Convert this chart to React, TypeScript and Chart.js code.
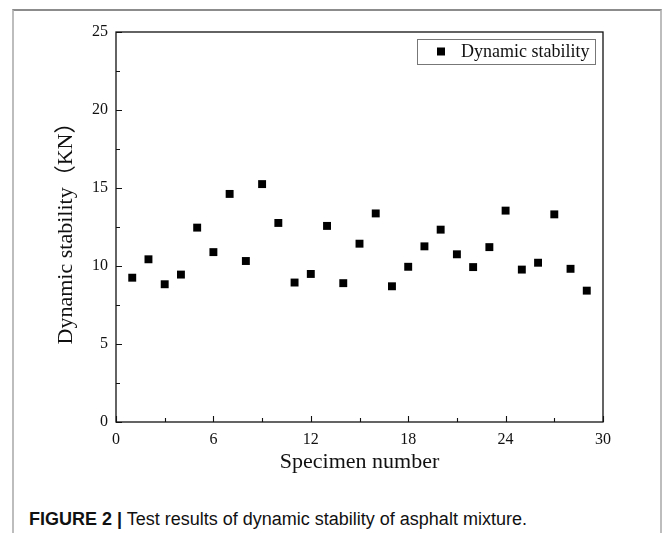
import React, { useEffect, useRef } from "react";
import { Chart, registerables } from "chart.js";

Chart.register(...registerables);

const specimenNumbers = [1, 2, 3, 4, 5, 6, 7, 8, 9, 10, 11, 12, 13, 14, 15, 16, 17, 18, 19, 20, 21, 22, 23, 24, 25, 26, 27, 28, 29];
const dynamicStability = [9.25, 10.43, 8.83, 9.45, 12.46, 10.89, 14.62, 10.32, 15.25, 12.76, 8.94, 9.49, 12.57, 8.9, 11.43, 13.37, 8.7, 9.95, 11.26, 12.33, 10.75, 9.93, 11.21, 13.55, 9.77, 10.21, 13.31, 9.82, 8.42];
const xMajorTicks = [0, 6, 12, 18, 24, 30];
const xMinorTicks = [3, 9, 15, 21, 27];
const yMajorTicks = [0, 5, 10, 15, 20, 25];
const yMinorTicks = [2.5, 7.5, 12.5, 17.5, 22.5];
const seriesLabel = "Dynamic stability";
const xTitle = "Specimen number";
const yTitle = "Dynamic stability（KN）";
const captionBold = "FIGURE 2 |";
const captionText = " Test results of dynamic stability of asphalt mixture.";

const SERIF = "'Liberation Serif', 'Times New Roman', 'Noto Sans CJK SC', serif";

const framePlugin = {
  id: "framePlugin",
  afterDraw(chart: any) {
    const { ctx, chartArea } = chart;
    const xs = chart.scales.x;
    const ys = chart.scales.y;
    ctx.save();
    ctx.strokeStyle = "#111";
    ctx.lineWidth = 1.3;
    ctx.strokeRect(chartArea.left, chartArea.top, chartArea.right - chartArea.left, chartArea.bottom - chartArea.top);
    ctx.lineWidth = 1.1;
    ctx.beginPath();
    const tickX = (v: number, len: number) => {
      const px = Math.round(xs.getPixelForValue(v)) + 0.5;
      ctx.moveTo(px, chartArea.bottom);
      ctx.lineTo(px, chartArea.bottom - len);
    };
    const tickY = (v: number, len: number) => {
      const py = Math.round(ys.getPixelForValue(v)) + 0.5;
      ctx.moveTo(chartArea.left, py);
      ctx.lineTo(chartArea.left + len, py);
    };
    xMajorTicks.forEach((v) => tickX(v, 6));
    xMinorTicks.forEach((v) => tickX(v, 4));
    yMajorTicks.forEach((v) => tickY(v, 6));
    yMinorTicks.forEach((v) => tickY(v, 4));
    ctx.stroke();

    // axis titles
    ctx.fillStyle = "#111";
    ctx.font = `22px ${SERIF}`;
    ctx.textAlign = "center";
    ctx.textBaseline = "middle";
    ctx.fillText(xTitle, (chartArea.left + chartArea.right) / 2, chartArea.bottom + 40);
    ctx.save();
    ctx.translate(66, (chartArea.top + chartArea.bottom) / 2 + 1);
    ctx.rotate(-Math.PI / 2);
    ctx.font = `22px ${SERIF}`;
    ctx.fillText(yTitle, 0, 0);
    ctx.restore();

    // legend box
    const bx1 = chartArea.right - 8;
    const by0 = chartArea.top + 7;
    const bx0 = bx1 - 178;
    const bh = 25;
    ctx.strokeStyle = "#777";
    ctx.lineWidth = 1;
    ctx.strokeRect(Math.round(bx0) + 0.5, Math.round(by0) + 0.5, 178, bh);
    const midY = by0 + bh / 2;
    ctx.fillStyle = "#000";
    ctx.fillRect(bx0 + 20, midY - 4, 8, 8);
    ctx.font = `18px ${SERIF}`;
    ctx.textAlign = "left";
    ctx.textBaseline = "middle";
    ctx.fillStyle = "#111";
    ctx.fillText(seriesLabel, bx0 + 44, midY + 1);
    ctx.restore();
  },
};

export default function App() {
  const canvasRef = useRef<HTMLCanvasElement | null>(null);

  useEffect(() => {
    if (!canvasRef.current) return;
    const chart = new Chart(canvasRef.current, {
      type: "scatter",
      data: {
        datasets: [
          {
            label: seriesLabel,
            data: specimenNumbers.map((x, i) => ({ x, y: dynamicStability[i] })),
            backgroundColor: "#000",
            borderWidth: 0,
            pointStyle: "rect",
            pointRadius: 5.6,
            pointHoverRadius: 5.6,
          },
        ],
      },
      options: {
        animation: false,
        responsive: false,
        maintainAspectRatio: false,
        events: [],
        layout: { padding: { left: 0, top: 32, right: 60, bottom: 0 } },
        plugins: { legend: { display: false }, tooltip: { enabled: false } },
        scales: {
          x: {
            type: "linear",
            min: 0,
            max: 30,
            grid: { display: false, drawTicks: false },
            border: { display: false },
            ticks: {
              stepSize: 6,
              padding: 8,
              color: "#111",
              font: { family: SERIF, size: 16 },
              maxRotation: 0,
            },
            afterFit: (s: any) => {
              s.height = 58;
            },
          },
          y: {
            type: "linear",
            min: 0,
            max: 25,
            grid: { display: false, drawTicks: false },
            border: { display: false },
            ticks: {
              stepSize: 5,
              padding: 8,
              color: "#111",
              font: { family: SERIF, size: 16 },
            },
            afterFit: (s: any) => {
              s.width = 116;
            },
          },
        },
      },
      plugins: [framePlugin],
    });
    return () => chart.destroy();
  }, []);

  return (
    <div style={{ position: "absolute", left: 0, top: 0, width: 663, height: 533, overflow: "hidden", background: "#fff" }}>
      <div
        style={{
          position: "absolute",
          left: 12,
          top: 9,
          width: 646,
          height: 600,
          borderTop: "2px solid #8c8c8c",
          borderLeft: "2px solid #bdbdbd",
          borderRight: "2px solid #bdbdbd",
        }}
      />
      <canvas ref={canvasRef} width={663} height={480} style={{ position: "absolute", left: 0, top: 0, width: 663, height: 480 }} />
      <div
        style={{
          position: "absolute",
          left: 29,
          top: 509,
          fontFamily: "'Liberation Sans', Arial, sans-serif",
          fontSize: 18,
          lineHeight: "20px",
          color: "#111",
          whiteSpace: "nowrap",
        }}
      >
        <b>{captionBold}</b>
        {captionText}
      </div>
    </div>
  );
}
